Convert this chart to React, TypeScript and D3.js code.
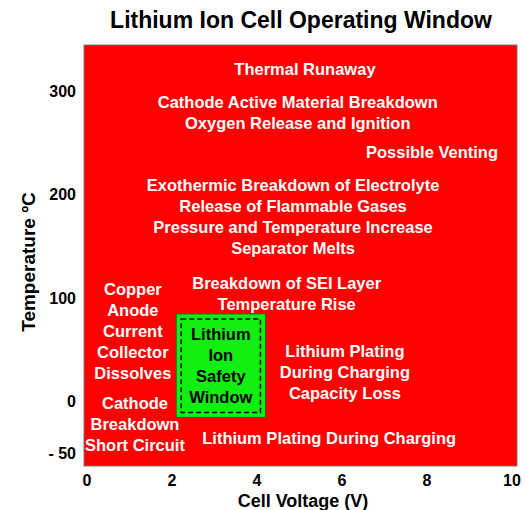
import React from 'react';
import * as d3 from 'd3';

// axis ticks
const voltTicks = [0, 2, 4, 6, 8, 10];
const tempTicks = [-50, 0, 100, 200, 300];
const tempTickLabels = ['- 50', '0', '100', '200', '300'];

// safe operating window (V, °C)
const safeVolts = [2.1, 4.2];
const safeTemps = [-15, 85];
const safeLines = ['Lithium', 'Ion', 'Safety', 'Window'];

// hazard annotations: first line anchored at (volt, temp)
const noteVolts = [5.13, 4.96, 8.12, 4.85, 4.7, 1.08, 1.13, 6.07, 5.7];
const noteTemps = [322, 290, 242, 210, 115, 109, -1.5, 49, -35];
const noteLines = [
  ['Thermal Runaway'],
  ['Cathode Active Material Breakdown', 'Oxygen Release and Ignition'],
  ['Possible Venting'],
  ['Exothermic Breakdown of Electrolyte', 'Release of Flammable Gases', 'Pressure and Temperature Increase', 'Separator Melts'],
  ['Breakdown of SEI Layer', 'Temperature Rise'],
  ['Copper', 'Anode', 'Current', 'Collector', 'Dissolves'],
  ['Cathode', 'Breakdown', 'Short Circuit'],
  ['Lithium Plating', 'During Charging', 'Capacity Loss'],
  ['Lithium Plating During Charging'],
];

const W = 525;
const H = 510;
const left = 84, right = 517, top = 45, bottom = 466;
const font = 'Arial, "Liberation Sans", sans-serif';
const lineGap = 21;

const App: React.FC = () => {
  const x = d3.scaleLinear().domain([-0.07, 10.12]).range([left, right]);
  const y = d3.scaleLinear().domain([-62, 345]).range([bottom, top]);

  const sx0 = x(safeVolts[0]), sx1 = x(safeVolts[1]);
  const sy0 = y(safeTemps[1]), sy1 = y(safeTemps[0]);
  const scx = (sx0 + sx1) / 2, scy = (sy0 + sy1) / 2;

  return (
    <svg width={W} height={H} style={{ position: 'absolute', left: 0, top: 0 }} fontFamily={font}>
      <rect width={W} height={H} fill="#fff" />
      <text x={301} y={20} textAnchor="middle" dominantBaseline="central" fontSize={23} fontWeight="bold">
        Lithium Ion Cell Operating Window
      </text>
      <rect x={left} y={top} width={right - left} height={bottom - top} fill="#ff0000" stroke="#777" strokeWidth={1} />

      {noteLines.map((lines, i) =>
        lines.map((t, j) => (
          <text key={`${i}-${j}`} x={x(noteVolts[i])} y={y(noteTemps[i]) + j * lineGap}
            textAnchor="middle" dominantBaseline="central" fill="#fff" fontSize={16.5} fontWeight="bold">
            {t}
          </text>
        ))
      )}

      <rect x={sx0} y={sy0} width={sx1 - sx0} height={sy1 - sy0} fill="#11ee11" stroke="#117711" strokeWidth={1} />
      <rect x={sx0 + 5} y={sy0 + 5} width={sx1 - sx0 - 10} height={sy1 - sy0 - 10} fill="none"
        stroke="#000" strokeWidth={1.5} strokeDasharray="5,3" />
      {safeLines.map((t, j) => (
        <text key={t} x={scx} y={scy + (j - 1.5) * lineGap} textAnchor="middle" dominantBaseline="central"
          fontSize={16.5} fontWeight="bold" fill="#000">
          {t}
        </text>
      ))}

      {voltTicks.map(v => (
        <text key={v} x={x(v)} y={480} textAnchor="middle" dominantBaseline="central" fontSize={16} fontWeight="bold">
          {v}
        </text>
      ))}
      {tempTicks.map((t, i) => (
        <text key={t} x={76} y={y(t)} textAnchor="end" dominantBaseline="central" fontSize={16} fontWeight="bold">
          {tempTickLabels[i]}
        </text>
      ))}

      <text x={303} y={501} textAnchor="middle" dominantBaseline="central" fontSize={18} fontWeight="bold">
        Cell Voltage (V)
      </text>
      <text transform={`translate(28,262) rotate(-90)`} textAnchor="middle" dominantBaseline="central"
        fontSize={19} fontWeight="bold">
        Temperature ºC
      </text>
    </svg>
  );
};

export default App;
